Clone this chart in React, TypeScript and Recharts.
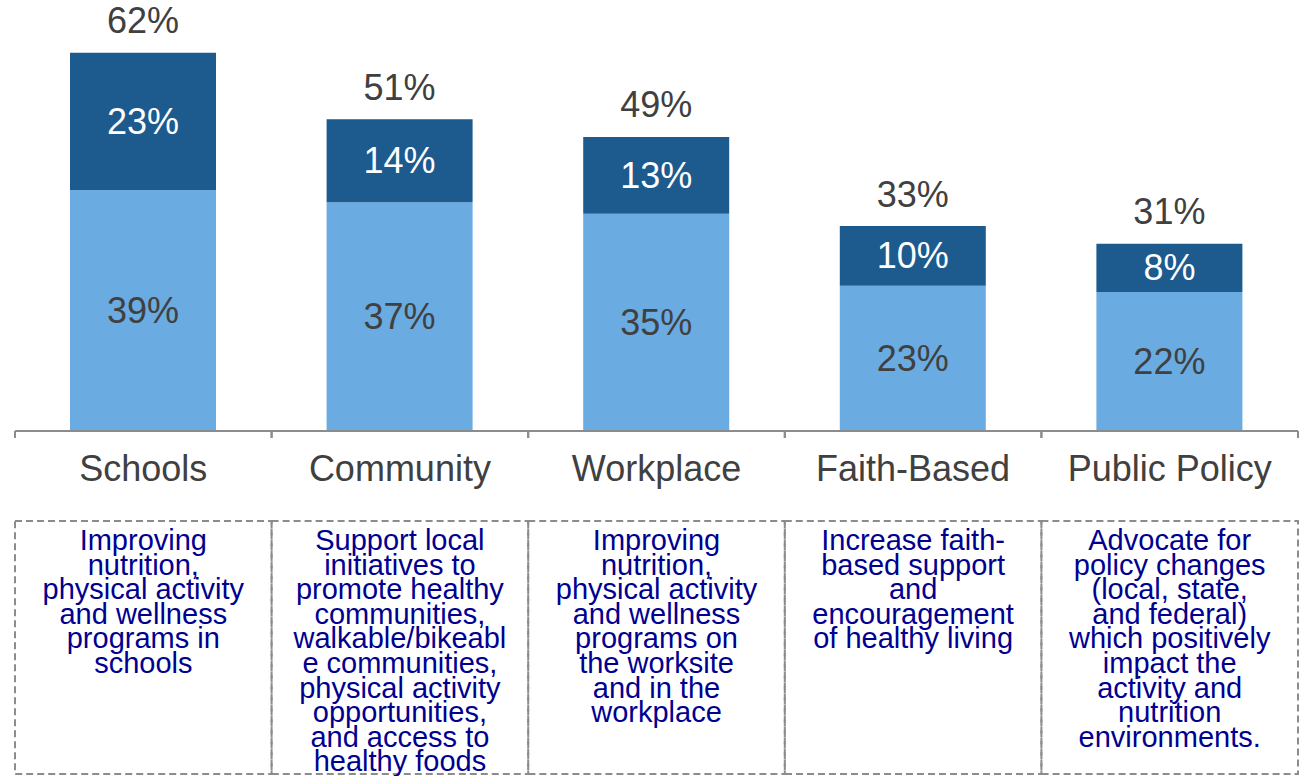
import React from "react";
import { BarChart, Bar, XAxis, YAxis, LabelList } from "recharts";

const categories = ["Schools", "Community", "Workplace", "Faith-Based", "Public Policy"];
const baseValues = [39.5, 37.5, 35.6, 23.8, 22.8];
const topValues = [22.5, 13.6, 12.6, 9.8, 7.9];
const baseLabels = ["39%", "37%", "35%", "23%", "22%"];
const topLabels = ["23%", "14%", "13%", "10%", "8%"];
const totalLabels = ["62%", "51%", "49%", "33%", "31%"];
const descriptions = [
  ["Improving", "nutrition,", "physical activity", "and wellness", "programs in", "schools"],
  ["Support local", "initiatives to", "promote healthy", "communities,", "walkable/bikeabl", "e communities,", "physical activity", "opportunities,", "and access to", "healthy foods"],
  ["Improving", "nutrition,", "physical activity", "and wellness", "programs on", "the worksite", "and in the", "workplace"],
  ["Increase faith-", "based support", "and", "encouragement", "of healthy living"],
  ["Advocate for", "policy changes", "(local, state,", "and federal)", "which positively", "impact the", "activity and", "nutrition", "environments."],
];

const data = categories.map((c, i) => ({
  category: c,
  base: baseValues[i],
  top: topValues[i],
  baseLabel: baseLabels[i],
  topLabel: topLabels[i],
  totalLabel: totalLabels[i],
}));

const FONT = "'Liberation Sans', Arial, sans-serif";
const DARK = "#1d5a8e";
const LIGHT = "#6aabe2";
const GRAY_TEXT = "#404040";
const AXIS = "#8c8c8c";
const NAVY = "#000090";

const getBox = (props: any) => {
  const vb = props.viewBox && props.viewBox.width !== undefined ? props.viewBox : props;
  return { x: Number(vb.x), y: Number(vb.y), width: Number(vb.width), height: Number(vb.height) };
};

const CenterLabel = (color: string) => (props: any) => {
  const { x, y, width, height } = getBox(props);
  return (
    <text x={x + width / 2} y={y + height / 2} textAnchor="middle" dominantBaseline="central" fontSize={36} fill={color} fontFamily={FONT}>
      {props.value}
    </text>
  );
};

const TotalLabel = (props: any) => {
  const { x, y, width } = getBox(props);
  return (
    <text x={x + width / 2} y={y - 32} textAnchor="middle" dominantBaseline="central" fontSize={36} fill={GRAY_TEXT} fontFamily={FONT}>
      {props.value}
    </text>
  );
};

const CategoryTick = (props: any) => {
  const { x, y, payload, index } = props;
  const half = 1283 / categories.length / 2;
  const lines = descriptions[index] || [];
  return (
    <g>
      <line x1={x - half} x2={x - half} y1={y} y2={y + 7} stroke={AXIS} strokeWidth={2} />
      <line x1={x + half} x2={x + half} y1={y} y2={y + 7} stroke={AXIS} strokeWidth={2} />
      <text x={x} y={y + 37} textAnchor="middle" dominantBaseline="central" fontSize={36} fill={GRAY_TEXT} fontFamily={FONT}>
        {payload.value}
      </text>
      <rect x={x - half} y={y + 90} width={half * 2} height={253} fill="none" stroke={AXIS} strokeWidth={2} strokeDasharray="7 4" />
      <text textAnchor="middle" fontSize={29} fill={NAVY} fontFamily={FONT} dominantBaseline="central">
        {lines.map((l: string, i: number) => (
          <tspan key={i} x={x} y={y + 109 + i * 24.6}>
            {l}
          </tspan>
        ))}
      </text>
    </g>
  );
};

export default function App() {
  return (
    <div style={{ position: "absolute", left: 0, top: 0, width: 1303, height: 776, background: "#fff" }}>
      <BarChart width={1303} height={776} data={data} margin={{ top: 4, right: 5, bottom: 0, left: 15 }}>
        <YAxis hide domain={[0, 70]} />
        <XAxis
          dataKey="category"
          height={345}
          axisLine={{ stroke: AXIS, strokeWidth: 2 }}
          tickLine={false}
          tickSize={0}
          tickMargin={0}
          interval={0}
          tick={<CategoryTick />}
        />
        <Bar dataKey="base" stackId="a" fill={LIGHT} barSize={146} isAnimationActive={false}>
          <LabelList dataKey="baseLabel" content={CenterLabel(GRAY_TEXT)} />
        </Bar>
        <Bar dataKey="top" stackId="a" fill={DARK} barSize={146} isAnimationActive={false}>
          <LabelList dataKey="topLabel" content={CenterLabel("#ffffff")} />
          <LabelList dataKey="totalLabel" content={TotalLabel} />
        </Bar>
      </BarChart>
    </div>
  );
}
